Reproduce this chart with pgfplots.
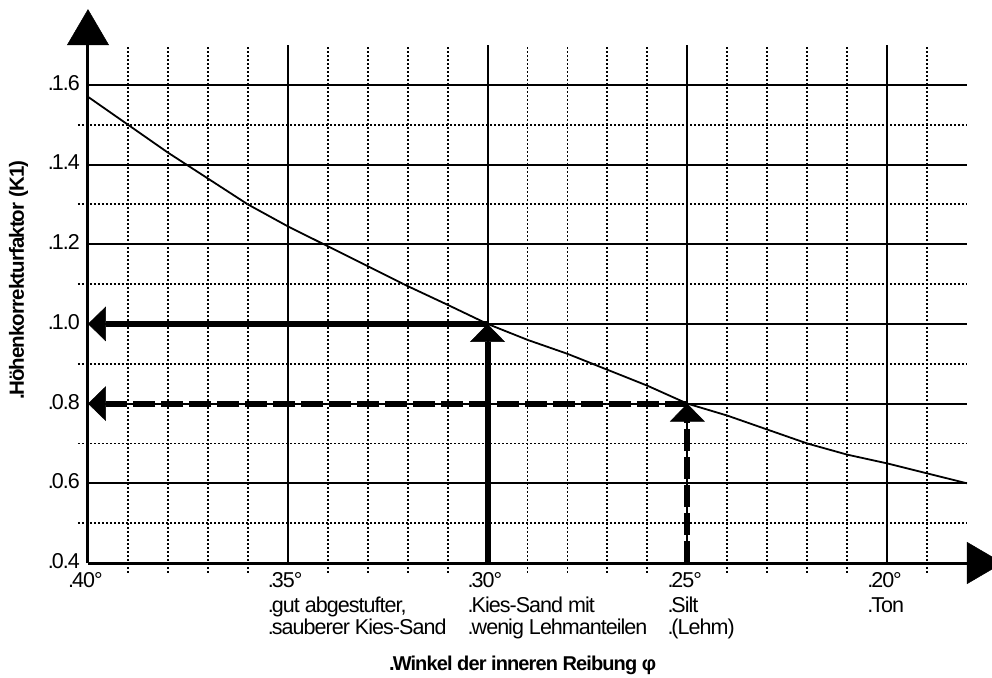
\documentclass[border=0pt]{standalone}
\usepackage{fontspec}
\setmainfont{Liberation Sans}
\newfontfamily\lblfont[LetterSpace=-4.5]{Liberation Sans}
\usepackage{pgfplots}
\pgfplotsset{compat=1.18}
\usetikzlibrary{arrows.meta}

\newcommand\lbl{\lblfont\fontsize{21.5}{22}\selectfont}
\newcommand\blbl{\lblfont\bfseries\fontsize{20.5}{22}\selectfont}
\newcommand\xlbl{\lblfont\bfseries\fontsize{20}{22}\selectfont}
\newcommand\dt{.\kern-2pt}

\begin{document}
\begin{tikzpicture}
\begin{axis}[
  scale only axis, width=879pt, height=518pt,
  xmin=18, xmax=40, x dir=reverse,
  ymin=0.4, ymax=1.7,
  axis lines*=left,
  axis line style={draw=none},
  clip=false,
  xtick={40,35,30,25,20},
  xticklabels={{\dt 40°},{\dt 35°\\[2.5pt]\dt gut abgestufter,\\\dt sauberer Kies-Sand},{\dt 30°\\[2.5pt]\dt Kies-Sand mit\\\dt wenig Lehmanteilen},{\dt 25°\\[2.5pt]\dt Silt\\\dt (Lehm)},{\dt 20°\\[2.5pt]\dt Ton}},
  ytick={0.4,0.6,0.8,1.0,1.2,1.4,1.6},
  yticklabels={\dt0.4,\dt0.6,\dt0.8,\dt1.0,\dt1.2,\dt1.4,\dt1.6},
  major tick length=0pt,
  tick label style={font=\lbl},
  xticklabel style={anchor=north west, align=left, inner sep=0pt, xshift=-20pt, yshift=-9.5pt},
  yticklabel style={anchor=east, inner sep=0pt, xshift=-8pt, yshift=2pt},
]
% minor dotted grid
\pgfplotsinvokeforeach{39,38,37,36,34,33,32,31,29,28,27,26,24,23,22,21,19}{
  \draw[line width=1.9pt, dash pattern=on 1.9pt off 2.1pt] (axis cs:#1,0.375) -- (axis cs:#1,1.7);
}
\pgfplotsinvokeforeach{0.5,0.7,0.9,1.1,1.3,1.5}{
  \draw[line width=1.9pt, dash pattern=on 1.9pt off 2.1pt] (axis cs:40.25,#1) -- (axis cs:18,#1);
}
% major solid grid
\pgfplotsinvokeforeach{35,30,25,20}{
  \draw[line width=2pt] (axis cs:#1,0.4) -- (axis cs:#1,1.7);
}
\pgfplotsinvokeforeach{0.6,0.8,1.0,1.2,1.4,1.6}{
  \draw[line width=2pt] (axis cs:40,#1) -- (axis cs:18,#1);
}
% curve
\addplot[black, line width=1.8pt, mark=none] coordinates {
(40,1.57) (39,1.50) (38,1.43) (37,1.365) (36,1.30) (35,1.245) (34,1.195)
(33,1.145) (32,1.095) (31,1.048) (30,1.00) (29,0.96) (28,0.925) (27,0.885)
(26,0.845) (25,0.80) (24,0.77) (23,0.735) (22,0.70) (21,0.672) (20,0.65)
(19,0.625) (18,0.60)};
% reading arrows
\addplot[black, line width=6pt, mark=none, -{Triangle[length=18pt,width=35pt,line width=0.5pt]}] coordinates {(30,1.0) (40,1.0)};
\addplot[black, line width=6pt, mark=none, -{Triangle[length=18pt,width=35pt,line width=0.5pt]}] coordinates {(30,0.4) (30,1.0)};
\addplot[black, line width=6pt, mark=none, dash pattern=on 22pt off 6pt, -{Triangle[length=18pt,width=35pt,line width=0.5pt]}] coordinates {(25,0.8) (40,0.8)};
\addplot[black, line width=6pt, mark=none, dash pattern=on 22pt off 6pt, -{Triangle[length=18pt,width=35pt,line width=0.5pt]}] coordinates {(25,0.4) (25,0.8)};
% axes
\draw[line width=3pt, -{Triangle[length=36pt,width=42pt,line width=0.5pt]}] (axis cs:40,0.4) -- (axis cs:40,1.79);
\draw[line width=3pt, -{Triangle[length=36pt,width=42pt,line width=0.5pt]}] (axis cs:40,0.4) -- (axis cs:17.1,0.4);
\end{axis}
\node[rotate=90, anchor=base, inner sep=0pt, font=\blbl] at (-64pt,283pt) {\dt Höhenkorrekturfaktor (K1)};
\node[anchor=base west, inner sep=0pt, font=\xlbl] at (301pt,-107pt) {\dt Winkel der inneren Reibung φ};
\pgfresetboundingbox
\path[use as bounding box] (-88pt,-114pt) rectangle (904pt,563pt);
\end{tikzpicture}
\end{document}
